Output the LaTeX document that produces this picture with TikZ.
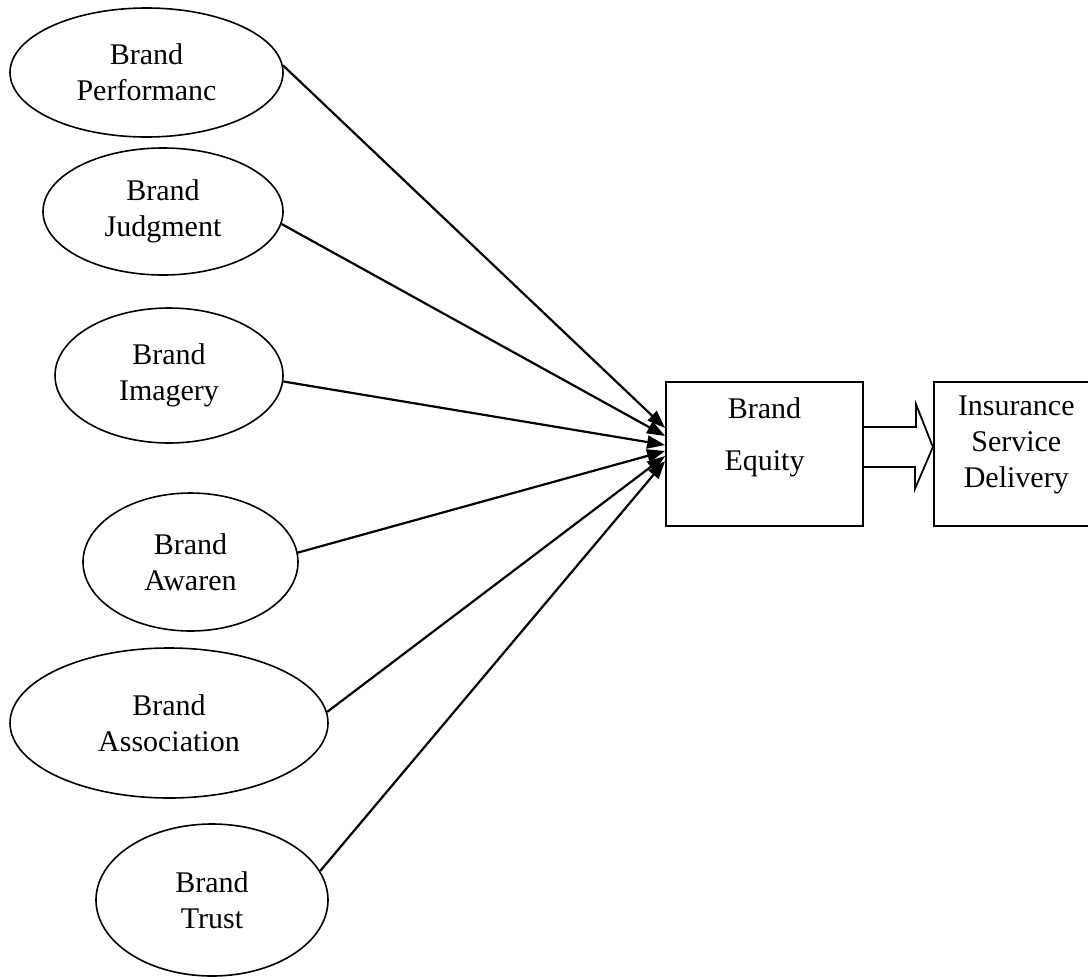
\documentclass[tikz,border=0pt]{standalone}
\usepackage{fontspec}
\setmainfont{Liberation Serif}
\usepackage{tikz}
\usetikzlibrary{shapes.geometric, arrows.meta, positioning, calc}

\begin{document}
\begin{tikzpicture}[
        x=0.5pt, y=-0.5pt,
        font=\fontsize{15}{18}\selectfont,
        construct/.style={ellipse, draw=black, line width=0.8pt, inner sep=0pt, align=center},
        outcome/.style={rectangle, draw=black, line width=0.9pt, minimum width=98.5pt, minimum height=72pt},
        boxtext/.style={align=center},
        line/.style={draw=black, line width=1.1pt, -{Triangle[length=9pt, width=6.5pt]}},
        bigarrow/.style={draw=black, line width=0.9pt, line join=miter}
    ]
    \useasboundingbox (0,0) rectangle (1088,976);
    % Nodes
    \node (performance) [construct, minimum width=136.5pt, minimum height=64.5pt] at (146.5,72.5) {Brand\\Performanc};
    \node (judgment) [construct, minimum width=120pt, minimum height=63.5pt] at (163,211.5) {Brand\\Judgment};
    \node (imagery) [construct, minimum width=114pt, minimum height=67.5pt] at (169,375.5) {Brand\\Imagery};
    \node (awareness) [construct, minimum width=107.5pt, minimum height=69pt] at (190.5,562) {Brand\\Awaren};
    \node (association) [construct, minimum width=159pt, minimum height=75pt] at (169,723) {Brand\\Association};
    \node (trust) [construct, minimum width=116pt, minimum height=76pt] at (212,900) {Brand\\Trust};
    \node (equity) [outcome, label={[name=equitytext, boxtext, yshift=8.5pt]center:Brand\\[8pt]Equity}] at (764.5,454) {};
    \node (delivery) [outcome, minimum width=77.5pt, right=34.5pt of equity, label={[name=deliverytext, boxtext, yshift=4.5pt, xshift=2.5pt]center:Insurance\\Service\\Delivery}] {};

    % Connectors
    \path [line] (performance.3) -- ([yshift=13pt]equity.west);
    \path [line] (judgment.-6) -- ([yshift=9pt]equity.west);
    \path [line] (imagery.-3) -- ([yshift=4.5pt]equity.west);
    \path [line] (awareness.5) -- ([yshift=1.5pt]equity.west);
    \path [line] (association.4) -- ([yshift=-1pt]equity.west);
    \path [line] (trust.15) -- ([yshift=-3.5pt]equity.west);
    \draw [bigarrow] ([yshift=13.5pt]equity.east) -- ++(26pt,0pt) -- ++(0pt,11.5pt)
        -- ([yshift=3.5pt]delivery.west) -- ++(-9pt,-21pt) -- ++(0pt,11pt) -- ([yshift=-6.5pt]equity.east);
\end{tikzpicture}
\end{document}
